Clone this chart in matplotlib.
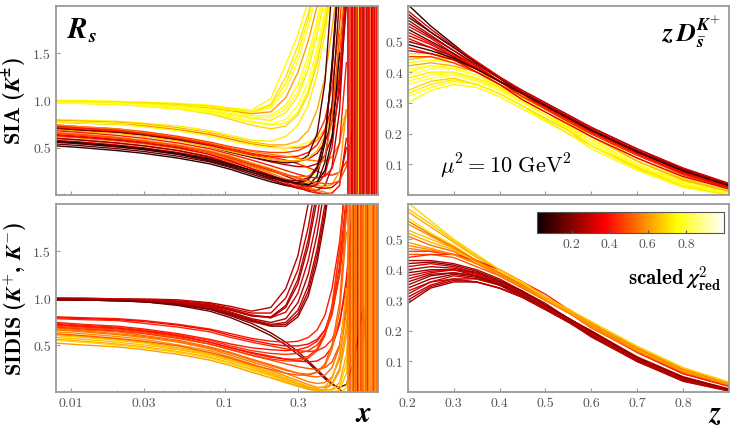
import matplotlib
matplotlib.use("Agg")
import matplotlib.pyplot as plt
import matplotlib.colors as mcolors
import matplotlib.cm as cm
import numpy as np

plt.rcParams['font.family'] = 'cmr10'
plt.rcParams['axes.unicode_minus'] = False
plt.rcParams['mathtext.fontset'] = 'custom'
plt.rcParams['mathtext.rm'] = 'cmr10'
plt.rcParams['mathtext.it'] = 'cmmi10'
plt.rcParams['mathtext.bf'] = 'cmb10'
plt.rcParams['mathtext.bfit'] = 'STIXGeneral:italic:bold'

# ---------------- data ----------------
# left panels: R_s versus x
x_grid = [0.008, 0.012, 0.02, 0.03, 0.05, 0.08, 0.11, 0.15, 0.2, 0.25,
          0.3, 0.35, 0.4, 0.45, 0.5, 0.56, 0.62, 0.7, 0.8, 0.9]

sia_rs = [
    [1.00, 1.00, 0.99, 0.98, 0.97, 0.95, 0.92, 0.90, 1.02, 1.38, 1.70, 2.05],
    [0.99, 0.99, 0.98, 0.98, 0.96, 0.94, 0.91, 0.88, 0.96, 1.25, 1.58, 1.92, 2.3],
    [0.98, 0.98, 0.98, 0.97, 0.95, 0.93, 0.90, 0.87, 0.92, 1.12, 1.42, 1.78, 2.15],
    [0.99, 0.98, 0.98, 0.97, 0.95, 0.92, 0.89, 0.86, 0.88, 1.03, 1.30, 1.63, 2.0, 2.4],
    [0.97, 0.97, 0.97, 0.96, 0.94, 0.91, 0.88, 0.84, 0.84, 0.95, 1.17, 1.48, 1.85, 2.25],
    [0.98, 0.98, 0.97, 0.95, 0.93, 0.89, 0.85, 0.81, 0.79, 0.87, 1.05, 1.33, 1.70, 2.1],
    [0.97, 0.97, 0.96, 0.95, 0.92, 0.88, 0.83, 0.78, 0.75, 0.80, 0.95, 1.20, 1.55, 1.98, 2.4],
    [0.98, 0.97, 0.96, 0.94, 0.91, 0.86, 0.80, 0.74, 0.70, 0.73, 0.85, 1.07, 1.40, 1.82, 2.3],
    [0.97, 0.97, 0.96, 0.94, 0.91, 0.87, 0.82, 0.77, 0.74, 0.76, 0.88, 1.12, 1.47, 1.90, 2.4],
    [0.99, 0.99, 0.98, 0.97, 0.95, 0.93, 0.90, 0.88, 0.94, 1.18, 1.50, 1.86, 2.3],
    [0.98, 0.97, 0.97, 0.95, 0.93, 0.90, 0.86, 0.82, 0.82, 0.91, 1.10, 1.40, 1.78, 2.2],
    [0.80, 0.79, 0.78, 0.76, 0.73, 0.68, 0.63, 0.58, 0.57, 0.62, 0.74, 0.95, 1.28, 1.72, 2.2],
    [0.79, 0.78, 0.77, 0.75, 0.71, 0.66, 0.61, 0.56, 0.53, 0.53, 0.57, 0.68, 0.90, 1.25, 1.75, 2.4],
    [0.78, 0.77, 0.76, 0.74, 0.70, 0.65, 0.60, 0.55, 0.52, 0.47, 0.38, 0.28, 0.18, 0.10, 0.04, -0.2],
    [0.77, 0.76, 0.75, 0.73, 0.69, 0.64, 0.59, 0.54, 0.51, 0.50, 0.50, 0.52, 0.58, 0.70, 0.90, 1.3, 2.1],
    [0.77, 0.76, 0.75, 0.72, 0.68, 0.62, 0.57, 0.53, 0.50, 0.50, 0.52, 0.56, 0.61, 0.66, 0.71, 0.77, 0.83, 0.88, 0.95],
    [0.74, 0.72, 0.70, 0.67, 0.62, 0.56, 0.51, 0.47, 0.45, 0.45, 0.47, 0.52, 0.62, 0.80, 1.15, 1.8, 2.6],
    [0.73, 0.71, 0.69, 0.66, 0.61, 0.55, 0.49, 0.44, 0.41, 0.40, 0.41, 0.45, 0.53, 0.68, 0.95, 1.5, 2.4],
    [0.72, 0.70, 0.68, 0.65, 0.60, 0.53, 0.47, 0.42, 0.38, 0.36, 0.36, 0.38, 0.44, 0.56, 0.78, 1.25, 2.1],
    [0.74, 0.72, 0.70, 0.66, 0.61, 0.55, 0.50, 0.46, 0.43, 0.41, 0.39, 0.37, 0.36, 0.36, 0.40, 0.55, 0.9],
    [0.71, 0.69, 0.67, 0.64, 0.59, 0.52, 0.46, 0.40, 0.35, 0.32, 0.30, 0.30, 0.33, 0.42, 0.62, 1.10, 2.0],
    [0.72, 0.70, 0.68, 0.65, 0.60, 0.54, 0.48, 0.43, 0.40, 0.37, 0.33, 0.29, 0.25, 0.22, 0.21, 0.24, 0.35],
    [0.70, 0.68, 0.66, 0.63, 0.58, 0.51, 0.45, 0.40, 0.36, 0.34, 0.35, 0.42, 0.65, 1.2, 2.2],
    [0.69, 0.67, 0.65, 0.62, 0.57, 0.51, 0.46, 0.41, 0.38, 0.36, 0.36, 0.39, 0.47, 0.62, 0.9, 1.6, 2.5],
    [0.52, 0.50, 0.47, 0.44, 0.39, 0.33, 0.27, 0.20, 0.14, 0.10, 0.08, 0.10, 0.20, 0.55, 1.4, 2.5],
    [0.54, 0.52, 0.49, 0.46, 0.41, 0.35, 0.29, 0.22, 0.16, 0.11, 0.08, 0.07, 0.12, 0.35, 0.95, 2.1],
    [0.56, 0.54, 0.51, 0.48, 0.43, 0.37, 0.31, 0.24, 0.17, 0.11, 0.07, 0.05, 0.05, 0.10, 0.30, 0.9, 2.2],
    [0.58, 0.56, 0.53, 0.50, 0.45, 0.39, 0.33, 0.26, 0.19, 0.13, 0.08, 0.04, 0.02, 0.01, 0.02, 0.10, 0.6],
    [0.60, 0.58, 0.55, 0.52, 0.47, 0.41, 0.35, 0.28, 0.21, 0.15, 0.10, 0.06, 0.03, 0.01, -0.01, -0.1],
    [0.62, 0.60, 0.57, 0.54, 0.49, 0.43, 0.37, 0.30, 0.23, 0.17, 0.12, 0.08, 0.05, 0.03, 0.01, -0.05],
    [0.64, 0.62, 0.59, 0.56, 0.51, 0.45, 0.39, 0.32, 0.26, 0.20, 0.15, 0.11, 0.08, 0.07, 0.08, 0.15, 0.5],
    [0.66, 0.64, 0.61, 0.58, 0.53, 0.47, 0.41, 0.34, 0.28, 0.22, 0.17, 0.13, 0.10, 0.09, 0.11, 0.25, 0.9],
    [0.60, 0.58, 0.55, 0.52, 0.47, 0.40, 0.33, 0.26, 0.20, 0.16, 0.15, 0.18, 0.30, 0.62, 1.3, 2.4],
    [0.68, 0.66, 0.63, 0.60, 0.55, 0.49, 0.43, 0.37, 0.31, 0.26, 0.22, 0.19, 0.18, 0.20, 0.28, 0.55, 1.4],
    [0.66, 0.64, 0.61, 0.57, 0.52, 0.45, 0.38, 0.31, 0.25, 0.21, 0.19, 0.20, 0.26, 0.42, 0.80, 1.7],
    [0.56, 0.54, 0.51, 0.48, 0.43, 0.36, 0.30, 0.24, 0.18, 0.14, 0.13, 0.16, 0.28, 0.60, 1.35, 2.4],
    [0.63, 0.61, 0.58, 0.55, 0.50, 0.43, 0.36, 0.28, 0.21, 0.15, 0.11, 0.09, 0.11, 0.22, 0.5, 1.2, 2.3],
    [0.57, 0.55, 0.52, 0.49, 0.44, 0.38, 0.32, 0.26, 0.20, 0.15, 0.12, 0.11, 0.14, 0.26, 0.6, 1.5],
    [0.65, 0.63, 0.60, 0.57, 0.52, 0.46, 0.40, 0.33, 0.27, 0.22, 0.18, 0.15, 0.13, 0.12, 0.12, 0.15, 0.3, 0.8],
]
sia_rs_chi = [0.74, 0.70, 0.78, 0.60, 0.76, 0.72, 0.80, 0.68, 0.75, 0.73, 0.79,
              0.72, 0.62, 0.78, 0.55, 0.76,
              0.45, 0.38, 0.30, 0.55, 0.25, 0.42, 0.12, 0.65,
              0.05, 0.15, 0.25, 0.35, 0.45, 0.55, 0.30, 0.60, 0.20, 0.40, 0.50, 0.10,
              0.33, 0.02, 0.48]

sia_poles = [0.64, 0.655, 0.67, 0.68, 0.695, 0.71, 0.72, 0.735, 0.75, 0.76, 0.775,
             0.79, 0.80, 0.815, 0.83, 0.845, 0.86, 0.875, 0.89, 0.905, 0.92,
             0.935, 0.95, 0.965, 0.98, 0.995]
sia_poles_chi = [0.30, 0.42, 0.15, 0.36, 0.50, 0.25, 0.40, 0.33, 0.75, 0.20, 0.38,
                 0.45, 0.28, 0.35, 0.55, 0.22, 0.40, 0.32, 0.48, 0.18, 0.38,
                 0.42, 0.30, 0.50, 0.36, 0.40]

sidis_rs = [
    [1.00, 1.00, 0.99, 0.99, 0.98, 0.95, 0.91, 0.86, 0.90, 1.10, 1.45, 2.0, 2.6],
    [0.99, 0.99, 0.99, 0.98, 0.97, 0.94, 0.89, 0.84, 0.84, 1.00, 1.30, 1.75, 2.3],
    [0.99, 0.99, 0.98, 0.98, 0.96, 0.92, 0.87, 0.81, 0.79, 0.90, 1.15, 1.55, 2.05],
    [1.00, 0.99, 0.99, 0.98, 0.96, 0.93, 0.88, 0.82, 0.79, 0.85, 1.05, 1.40, 1.85, 2.4],
    [0.98, 0.98, 0.98, 0.97, 0.95, 0.91, 0.85, 0.78, 0.74, 0.78, 0.95, 1.25, 1.68, 2.2],
    [0.99, 0.98, 0.98, 0.97, 0.94, 0.90, 0.84, 0.77, 0.72, 0.74, 0.87, 1.13, 1.52, 2.0, 2.5],
    [0.98, 0.98, 0.97, 0.96, 0.93, 0.88, 0.82, 0.75, 0.70, 0.70, 0.80, 1.02, 1.38, 1.85, 2.4],
    [0.99, 0.99, 0.98, 0.97, 0.95, 0.92, 0.87, 0.81, 0.80, 0.92, 1.20, 1.62, 2.15],
    [0.98, 0.98, 0.97, 0.96, 0.94, 0.89, 0.83, 0.76, 0.71, 0.72, 0.83, 1.07, 1.45, 1.92, 2.45],
    [0.99, 0.98, 0.98, 0.96, 0.93, 0.88, 0.81, 0.73, 0.63, 0.53, 0.43, 0.33, 0.24, 0.16, 0.09, 0.03, -0.05],
    [0.98, 0.98, 0.97, 0.96, 0.92, 0.86, 0.79, 0.70, 0.60, 0.50, 0.40, 0.31, 0.22, 0.14, 0.08, 0.05, 0.08, 0.35, 0.92, -0.5],
    [0.80, 0.79, 0.78, 0.76, 0.72, 0.67, 0.62, 0.57, 0.54, 0.53, 0.54, 0.58, 0.66, 0.82, 1.10, 1.6, 2.3],
    [0.79, 0.78, 0.77, 0.75, 0.71, 0.66, 0.60, 0.55, 0.51, 0.49, 0.49, 0.51, 0.56, 0.66, 0.85, 1.25, 1.9, 2.6],
    [0.78, 0.77, 0.76, 0.73, 0.69, 0.64, 0.58, 0.53, 0.49, 0.46, 0.44, 0.43, 0.44, 0.48, 0.56, 0.75, 1.1, 1.9],
    [0.74, 0.72, 0.70, 0.67, 0.62, 0.56, 0.51, 0.47, 0.45, 0.44, 0.45, 0.48, 0.54, 0.66, 0.88, 1.35, 2.1],
    [0.73, 0.71, 0.69, 0.66, 0.61, 0.55, 0.49, 0.44, 0.41, 0.40, 0.41, 0.44, 0.50, 0.62, 0.82, 1.25, 2.0],
    [0.71, 0.69, 0.67, 0.64, 0.59, 0.53, 0.47, 0.41, 0.37, 0.35, 0.35, 0.38, 0.46, 0.62, 0.92, 1.5, 2.4],
    [0.72, 0.70, 0.68, 0.65, 0.60, 0.53, 0.47, 0.42, 0.38, 0.35, 0.33, 0.32, 0.33, 0.38, 0.48, 0.72, 1.2, 2.2],
    [0.70, 0.68, 0.66, 0.63, 0.58, 0.51, 0.45, 0.39, 0.34, 0.30, 0.27, 0.25, 0.24, 0.26, 0.32, 0.50, 0.90, 1.8],
    [0.68, 0.66, 0.64, 0.60, 0.55, 0.48, 0.42, 0.35, 0.29, 0.24, 0.20, 0.17, 0.16, 0.18, 0.26, 0.48, 1.0, 2.2],
    [0.67, 0.65, 0.62, 0.59, 0.54, 0.47, 0.41, 0.34, 0.28, 0.23, 0.20, 0.19, 0.21, 0.28, 0.45, 0.85, 1.7],
    [0.66, 0.64, 0.61, 0.58, 0.53, 0.46, 0.39, 0.32, 0.26, 0.20, 0.15, 0.11, 0.09, 0.10, 0.16, 0.35, 0.85, 2.0],
    [0.64, 0.62, 0.59, 0.56, 0.50, 0.44, 0.37, 0.30, 0.23, 0.17, 0.12, 0.08, 0.05, 0.05, 0.09, 0.25, 0.7, 1.8],
    [0.61, 0.59, 0.56, 0.53, 0.47, 0.41, 0.35, 0.28, 0.21, 0.15, 0.10, 0.06, 0.03, 0.02, 0.03, 0.10, 0.4, 1.3],
    [0.60, 0.58, 0.55, 0.52, 0.46, 0.40, 0.34, 0.27, 0.20, 0.14, 0.09, 0.05, 0.03, 0.02, 0.02, 0.06, 0.3, 1.1],
    [0.58, 0.56, 0.53, 0.50, 0.45, 0.39, 0.33, 0.26, 0.19, 0.13, 0.08, 0.04, 0.02, 0.01, 0.00, 0.02, 0.2, 0.9],
    [0.56, 0.54, 0.51, 0.48, 0.43, 0.37, 0.31, 0.24, 0.18, 0.12, 0.08, 0.05, 0.04, 0.06, 0.14, 0.40, 1.1],
    [0.55, 0.53, 0.50, 0.47, 0.42, 0.36, 0.30, 0.23, 0.17, 0.11, 0.07, 0.03, 0.01, 0.00, -0.01, -0.02, 0.05, 0.6],
    [0.52, 0.50, 0.48, 0.45, 0.40, 0.34, 0.28, 0.21, 0.15, 0.10, 0.06, 0.03, 0.02, 0.03, 0.08, 0.22, 0.6, 1.5],
    [0.62, 0.60, 0.57, 0.54, 0.49, 0.42, 0.36, 0.29, 0.24, 0.20, 0.18, 0.18, 0.21, 0.30, 0.50, 0.95, 1.9],
    [0.69, 0.67, 0.65, 0.62, 0.57, 0.51, 0.45, 0.39, 0.35, 0.33, 0.33, 0.36, 0.44, 0.60, 0.90, 1.5, 2.4],
]
sidis_rs_chi = [0.25, 0.28, 0.22, 0.30, 0.24, 0.27, 0.20, 0.26, 0.23, 0.18, 0.15,
                0.40, 0.36, 0.42,
                0.40, 0.44, 0.42, 0.38, 0.48, 0.52, 0.53, 0.55, 0.58, 0.62, 0.66,
                0.65, 0.62, 0.68, 0.60, 0.50, 0.45]

sidis_poles = [0.64, 0.655, 0.67, 0.68, 0.695, 0.71, 0.72, 0.735, 0.75, 0.76, 0.775,
               0.79, 0.80, 0.815, 0.83, 0.845, 0.86, 0.875, 0.89, 0.905, 0.92,
               0.935, 0.95, 0.965, 0.98, 0.995]
sidis_poles_chi = [0.55, 0.48, 0.60, 0.52, 0.42, 0.58, 0.50, 0.20, 0.55, 0.62, 0.45,
                   0.57, 0.52, 0.60, 0.48, 0.55, 0.40, 0.58, 0.53, 0.62, 0.50,
                   0.45, 0.56, 0.60, 0.52, 0.48]

# right panels: z D_sbar^K+ versus z
z_grid = [0.2, 0.25, 0.3, 0.35, 0.4, 0.45, 0.5, 0.55, 0.6, 0.7, 0.8, 0.9]

sia_zd = [
    [0.46, 0.46, 0.45, 0.42, 0.38, 0.33, 0.29, 0.24, 0.20, 0.12, 0.055, 0.015],
    [0.43, 0.44, 0.43, 0.40, 0.36, 0.32, 0.27, 0.23, 0.19, 0.11, 0.05, 0.01],
    [0.40, 0.42, 0.41, 0.39, 0.35, 0.31, 0.27, 0.22, 0.18, 0.10, 0.045, 0.008],
    [0.38, 0.40, 0.40, 0.38, 0.35, 0.31, 0.26, 0.22, 0.18, 0.10, 0.04, 0.005],
    [0.36, 0.38, 0.39, 0.37, 0.34, 0.30, 0.26, 0.21, 0.17, 0.09, 0.035, 0.003],
    [0.34, 0.37, 0.38, 0.36, 0.33, 0.29, 0.25, 0.21, 0.16, 0.09, 0.03, 0.0],
    [0.32, 0.35, 0.37, 0.36, 0.33, 0.29, 0.24, 0.20, 0.16, 0.085, 0.03, 0.0],
    [0.30, 0.34, 0.36, 0.35, 0.32, 0.28, 0.24, 0.20, 0.15, 0.08, 0.025, 0.0],
    [0.42, 0.43, 0.42, 0.40, 0.37, 0.33, 0.28, 0.24, 0.19, 0.11, 0.05, 0.012],
    [0.39, 0.41, 0.41, 0.39, 0.36, 0.32, 0.27, 0.23, 0.18, 0.10, 0.04, 0.006],
    [0.44, 0.45, 0.44, 0.41, 0.37, 0.325, 0.28, 0.235, 0.19, 0.11, 0.048, 0.01],
    [0.37, 0.39, 0.395, 0.375, 0.345, 0.305, 0.26, 0.215, 0.17, 0.095, 0.038, 0.004],
    [0.33, 0.36, 0.375, 0.36, 0.33, 0.29, 0.245, 0.20, 0.16, 0.085, 0.028, 0.0],
    [0.41, 0.42, 0.415, 0.39, 0.355, 0.315, 0.27, 0.225, 0.18, 0.10, 0.042, 0.007],
    [0.62, 0.55, 0.49, 0.43, 0.38, 0.33, 0.28, 0.24, 0.20, 0.13, 0.07, 0.03],
    [0.59, 0.53, 0.48, 0.43, 0.38, 0.33, 0.29, 0.25, 0.21, 0.14, 0.08, 0.03],
    [0.57, 0.52, 0.47, 0.42, 0.37, 0.33, 0.29, 0.25, 0.21, 0.14, 0.08, 0.035],
    [0.55, 0.51, 0.46, 0.42, 0.37, 0.33, 0.29, 0.25, 0.21, 0.14, 0.075, 0.03],
    [0.54, 0.50, 0.46, 0.41, 0.37, 0.33, 0.29, 0.25, 0.21, 0.14, 0.08, 0.035],
    [0.52, 0.49, 0.45, 0.41, 0.37, 0.32, 0.28, 0.24, 0.20, 0.13, 0.07, 0.025],
    [0.50, 0.48, 0.45, 0.41, 0.37, 0.33, 0.29, 0.25, 0.21, 0.14, 0.08, 0.03],
    [0.48, 0.46, 0.44, 0.41, 0.37, 0.33, 0.29, 0.25, 0.21, 0.13, 0.07, 0.02],
    [0.47, 0.46, 0.44, 0.41, 0.37, 0.33, 0.28, 0.24, 0.20, 0.13, 0.07, 0.025],
    [0.45, 0.45, 0.43, 0.40, 0.36, 0.32, 0.28, 0.24, 0.20, 0.13, 0.065, 0.02],
    [0.58, 0.53, 0.48, 0.43, 0.38, 0.34, 0.30, 0.26, 0.22, 0.15, 0.085, 0.035],
    [0.51, 0.48, 0.44, 0.40, 0.36, 0.31, 0.27, 0.23, 0.19, 0.12, 0.06, 0.02],
    [0.56, 0.515, 0.47, 0.425, 0.38, 0.335, 0.295, 0.255, 0.215, 0.145, 0.082, 0.035],
    [0.53, 0.495, 0.455, 0.415, 0.37, 0.33, 0.285, 0.245, 0.205, 0.135, 0.072, 0.027],
    [0.49, 0.47, 0.445, 0.41, 0.37, 0.33, 0.29, 0.25, 0.21, 0.14, 0.078, 0.03],
    [0.60, 0.54, 0.485, 0.435, 0.385, 0.34, 0.30, 0.26, 0.22, 0.15, 0.088, 0.038],
]
sia_zd_chi = [0.70, 0.75, 0.78, 0.72, 0.80, 0.68, 0.76, 0.74, 0.62, 0.82,
              0.66, 0.77, 0.72, 0.79,
              0.05, 0.15, 0.25, 0.35, 0.10, 0.30, 0.20, 0.40, 0.28, 0.45, 0.12, 0.33,
              0.22, 0.38, 0.08, 0.32]

sidis_zd = [
    [0.29, 0.34, 0.36, 0.36, 0.34, 0.31, 0.27, 0.23, 0.18, 0.10, 0.035, 0.003],
    [0.31, 0.35, 0.37, 0.36, 0.34, 0.31, 0.27, 0.23, 0.185, 0.10, 0.04, 0.005],
    [0.33, 0.36, 0.38, 0.37, 0.35, 0.31, 0.27, 0.23, 0.19, 0.105, 0.04, 0.006],
    [0.35, 0.38, 0.39, 0.38, 0.35, 0.32, 0.28, 0.235, 0.19, 0.11, 0.045, 0.008],
    [0.37, 0.39, 0.40, 0.38, 0.36, 0.32, 0.28, 0.24, 0.195, 0.11, 0.045, 0.008],
    [0.39, 0.40, 0.40, 0.39, 0.36, 0.32, 0.28, 0.24, 0.19, 0.105, 0.04, 0.005],
    [0.41, 0.42, 0.41, 0.39, 0.36, 0.33, 0.28, 0.24, 0.20, 0.11, 0.045, 0.008],
    [0.43, 0.43, 0.42, 0.40, 0.37, 0.33, 0.29, 0.24, 0.20, 0.115, 0.05, 0.01],
    [0.32, 0.36, 0.37, 0.37, 0.35, 0.32, 0.28, 0.235, 0.19, 0.105, 0.04, 0.005],
    [0.36, 0.385, 0.39, 0.38, 0.355, 0.32, 0.28, 0.235, 0.19, 0.105, 0.042, 0.006],
    [0.30, 0.345, 0.365, 0.36, 0.34, 0.31, 0.27, 0.228, 0.183, 0.10, 0.037, 0.004],
    [0.34, 0.37, 0.385, 0.375, 0.35, 0.315, 0.275, 0.232, 0.188, 0.105, 0.042, 0.006],
    [0.38, 0.395, 0.40, 0.385, 0.36, 0.325, 0.28, 0.238, 0.193, 0.108, 0.044, 0.007],
    [0.40, 0.41, 0.405, 0.39, 0.36, 0.325, 0.283, 0.24, 0.196, 0.11, 0.046, 0.008],
    [0.42, 0.425, 0.415, 0.395, 0.365, 0.33, 0.285, 0.242, 0.198, 0.112, 0.048, 0.009],
    [0.45, 0.45, 0.44, 0.41, 0.38, 0.34, 0.30, 0.26, 0.21, 0.13, 0.06, 0.02],
    [0.47, 0.46, 0.45, 0.42, 0.38, 0.34, 0.30, 0.26, 0.21, 0.13, 0.065, 0.022],
    [0.49, 0.47, 0.45, 0.42, 0.39, 0.35, 0.30, 0.26, 0.22, 0.135, 0.068, 0.025],
    [0.51, 0.48, 0.46, 0.42, 0.39, 0.35, 0.30, 0.26, 0.22, 0.14, 0.07, 0.026],
    [0.53, 0.50, 0.47, 0.43, 0.39, 0.35, 0.31, 0.27, 0.22, 0.14, 0.072, 0.028],
    [0.55, 0.51, 0.47, 0.43, 0.39, 0.35, 0.31, 0.265, 0.22, 0.14, 0.07, 0.025],
    [0.57, 0.52, 0.48, 0.43, 0.39, 0.35, 0.31, 0.27, 0.225, 0.145, 0.075, 0.03],
    [0.59, 0.54, 0.49, 0.44, 0.40, 0.36, 0.31, 0.27, 0.23, 0.145, 0.075, 0.03],
    [0.46, 0.46, 0.45, 0.43, 0.40, 0.36, 0.31, 0.27, 0.22, 0.13, 0.06, 0.018],
    [0.44, 0.45, 0.45, 0.43, 0.40, 0.36, 0.32, 0.27, 0.22, 0.13, 0.06, 0.02],
    [0.62, 0.56, 0.50, 0.45, 0.40, 0.36, 0.31, 0.27, 0.23, 0.15, 0.08, 0.032],
    [0.48, 0.465, 0.45, 0.42, 0.385, 0.345, 0.30, 0.26, 0.215, 0.133, 0.066, 0.023],
    [0.52, 0.49, 0.465, 0.425, 0.39, 0.35, 0.305, 0.265, 0.22, 0.14, 0.071, 0.027],
    [0.56, 0.515, 0.475, 0.43, 0.39, 0.35, 0.31, 0.27, 0.225, 0.143, 0.074, 0.029],
    [0.60, 0.55, 0.495, 0.445, 0.40, 0.355, 0.31, 0.27, 0.228, 0.148, 0.078, 0.031],
]
sidis_zd_chi = [0.22, 0.26, 0.30, 0.24, 0.28, 0.20, 0.32, 0.25, 0.29, 0.23,
                0.27, 0.21, 0.31, 0.26, 0.19,
                0.50, 0.55, 0.60, 0.52, 0.65, 0.58, 0.70, 0.62, 0.45, 0.42, 0.68,
                0.57, 0.63, 0.54, 0.66]

cbar_ticks = [0.2, 0.4, 0.6, 0.8]
rs_yticks = [0.5, 1.0, 1.5]
zd_yticks = [0.1, 0.2, 0.3, 0.4, 0.5]
x_ticks = [0.01, 0.03, 0.1, 0.3]
x_labels = ['0.01', '0.03', '0.1', '0.3']
z_ticks = [0.2, 0.3, 0.4, 0.5, 0.6, 0.7, 0.8]

# ---------------- plotting ----------------
cmap = plt.get_cmap('hot')
norm = mcolors.Normalize(vmin=0.0, vmax=1.0)
spine_col = '#9a9a9a'
tick_col = '#555555'

fig = plt.figure(figsize=(7.47, 4.27), dpi=100)
ax_tl = fig.add_axes([0.075, 0.541, 0.4314, 0.4426])
ax_bl = fig.add_axes([0.075, 0.0796, 0.4314, 0.4403])
ax_tr = fig.add_axes([0.5458, 0.541, 0.4301, 0.4426])
ax_br = fig.add_axes([0.5458, 0.0796, 0.4301, 0.4403])


def style(ax):
    for s in ax.spines.values():
        s.set_color(spine_col)
        s.set_linewidth(1.3)
    ax.tick_params(which='both', direction='in', colors=spine_col,
                   labelcolor=tick_col, labelsize=10)
    ax.tick_params(which='major', length=3)
    ax.tick_params(which='minor', length=1.8)


def draw_rs(ax, rows, chis, poles, pole_chis):
    for row, c in zip(rows, chis):
        ax.plot(x_grid[:len(row)], row, color=cmap(norm(c)), lw=1.0)
    for xp, c in zip(poles, pole_chis):
        ax.axvline(xp, color=cmap(norm(c)), lw=1.2)
    ax.set_xscale('log')
    ax.set_xlim(0.008, 1.0)
    ax.set_ylim(0, 2.0)
    ax.set_yticks(rs_yticks)
    ax.set_yticklabels(['0.5', '1.0', '1.5'])
    ax.set_xticks(x_ticks)
    ax.set_xticklabels(x_labels)
    style(ax)


def draw_zd(ax, rows, chis):
    for row, c in zip(rows, chis):
        ax.plot(z_grid, row, color=cmap(norm(c)), lw=1.0)
    ax.set_xlim(0.2, 0.9)
    ax.set_ylim(0, 0.615)
    ax.set_yticks(zd_yticks)
    ax.set_yticklabels(['0.1', '0.2', '0.3', '0.4', '0.5'])
    ax.set_xticks(z_ticks)
    ax.set_xticklabels(['0.2', '0.3', '0.4', '0.5', '0.6', '0.7', '0.8'])
    style(ax)


draw_rs(ax_tl, sia_rs, sia_rs_chi, sia_poles, sia_poles_chi)
draw_rs(ax_bl, sidis_rs, sidis_rs_chi, sidis_poles, sidis_poles_chi)
draw_zd(ax_tr, sia_zd, sia_zd_chi)
draw_zd(ax_br, sidis_zd, sidis_zd_chi)

ax_tl.tick_params(labelbottom=False)
ax_tr.tick_params(labelbottom=False)

ax_tl.set_ylabel(r'$\mathbf{SIA}\ \mathbf{(}\mathbfit{K}^{\mathbfit{\pm}}\mathbf{)}$',
                 fontsize=16, labelpad=3)
ax_bl.set_ylabel(r'$\mathbf{SIDIS}\ \mathbf{(}\mathbfit{K}^{+}\mathbf{,}\ \mathbfit{K}^{-}\mathbf{)}$',
                 fontsize=16, labelpad=3)

ax_tl.text(0.035, 0.95, r'$\mathbfit{R}_{\mathbfit{s}}$', transform=ax_tl.transAxes,
           fontsize=21, ha='left', va='top')
ax_tr.text(0.975, 0.96, r'$\mathbfit{z}\,\mathbfit{D}_{\bar{\mathbfit{s}}}^{\mathbfit{K}^{+}}$',
           transform=ax_tr.transAxes, fontsize=19, ha='right', va='top')
ax_tr.text(0.1, 0.08, r'$\mu^2 = 10\ \mathrm{GeV}^2$', transform=ax_tr.transAxes,
           fontsize=16, ha='left', va='bottom')
ax_bl.text(0.955, -0.045, r'$\mathbfit{x}$', transform=ax_bl.transAxes,
           fontsize=21, ha='center', va='top')
ax_br.text(0.955, -0.045, r'$\mathbfit{z}$', transform=ax_br.transAxes,
           fontsize=21, ha='center', va='top')

cax = fig.add_axes([0.7193, 0.4513, 0.2499, 0.0492])
sm = cm.ScalarMappable(norm=mcolors.Normalize(vmin=0.02, vmax=1.0), cmap=cmap)
cb = fig.colorbar(sm, cax=cax, orientation='horizontal')
cb.set_ticks(cbar_ticks)
cb.set_ticklabels(['0.2', '0.4', '0.6', '0.8'])
cb.outline.set_edgecolor('#555555')
cb.outline.set_linewidth(0.8)
cax.tick_params(direction='in', length=2.5, colors='#555555', labelcolor=tick_col,
                labelsize=10)
ax_br.text(0.975, 0.685, r'$\mathbf{scaled}\ \mathbfit{\chi}^{2}_{\mathbf{red}}$',
           transform=ax_br.transAxes, fontsize=15, ha='right', va='top')

fig.savefig('out.png', dpi=100)
